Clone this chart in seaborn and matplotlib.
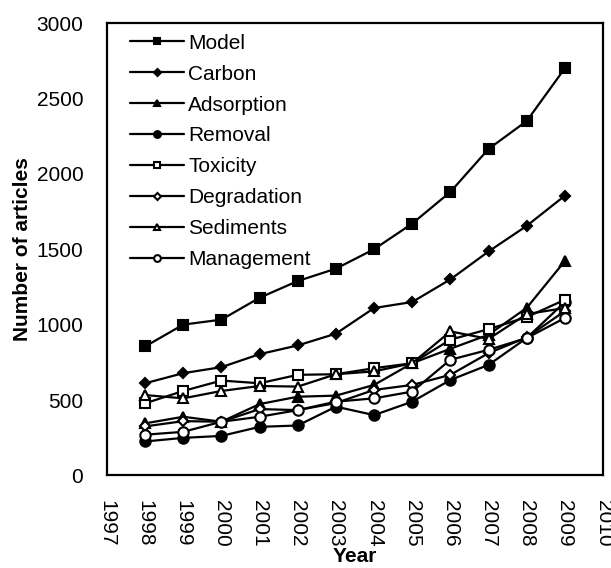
import matplotlib
matplotlib.use("Agg")
import matplotlib.pyplot as plt
import numpy as np
import pandas as pd
import seaborn as sns

years = list(range(1998, 2010))
model = [855, 1000, 1033, 1178, 1289, 1371, 1500, 1670, 1880, 2165, 2350, 2700]
carbon = [611, 678, 718, 804, 862, 940, 1110, 1150, 1300, 1485, 1655, 1855]
adsorption = [345, 389, 356, 473, 522, 529, 600, 744, 840, 933, 1111, 1422]
removal = [225, 249, 262, 322, 331, 456, 400, 489, 633, 733, 911, 1150]
toxicity = [478, 560, 629, 611, 667, 671, 711, 744, 900, 970, 1050, 1165]
degradation = [325, 360, 356, 440, 433, 480, 567, 600, 667, 811, 915, 1090]
sediments = [533, 511, 560, 593, 589, 671, 690, 744, 955, 905, 1070, 1110]
management = [270, 289, 356, 389, 433, 489, 511, 556, 767, 833, 911, 1044]

series = {
    "Model": model,
    "Carbon": carbon,
    "Adsorption": adsorption,
    "Removal": removal,
    "Toxicity": toxicity,
    "Degradation": degradation,
    "Sediments": sediments,
    "Management": management,
}
# marker, filled?, size
styles = {
    "Model": ("s", True, 7.5),
    "Carbon": ("D", True, 5.5),
    "Adsorption": ("^", True, 7.5),
    "Removal": ("o", True, 7.5),
    "Toxicity": ("s", False, 7.5),
    "Degradation": ("D", False, 5.5),
    "Sediments": ("^", False, 7.5),
    "Management": ("o", False, 7.5),
}

sns.set_style("white")
plt.rcParams["font.family"] = ["Liberation Sans", "DejaVu Sans"]
plt.rcParams["text.color"] = "black"
plt.rcParams["axes.labelcolor"] = "black"
plt.rcParams["xtick.color"] = "black"
plt.rcParams["ytick.color"] = "black"

fig = plt.figure(figsize=(6.11, 5.68), dpi=100)
ax = fig.add_axes([0.175, 0.163, 0.812, 0.7965])

for name, vals in series.items():
    m, filled, ms = styles[name]
    sns.lineplot(x=years, y=vals, ax=ax, color="black", linewidth=1.6,
                 marker=m, markersize=ms, markeredgecolor="black",
                 markeredgewidth=1.5,
                 markerfacecolor="black" if filled else "white",
                 label=name)

ax.set_xlim(1997, 2010)
ax.set_ylim(0, 3000)
ax.set_xticks(range(1997, 2011))
ax.set_yticks(range(0, 3001, 500))
ax.tick_params(axis="x", direction="in", length=5, width=1.2, labelsize=15,
               labelrotation=-90, pad=18, colors="black")
ax.tick_params(axis="y", direction="in", length=5, width=1.2, labelsize=15,
               pad=17, colors="black")
for s in ax.spines.values():
    s.set_color("black")
    s.set_linewidth(1.6)

ax.set_xlabel("Year", fontsize=15, fontweight="bold", labelpad=0, color="black")
ax.set_ylabel("Number of articles", fontsize=15, fontweight="bold", labelpad=3,
              color="black")

ax.legend(loc="upper left", bbox_to_anchor=(0.034, 0.99), frameon=False,
          fontsize=15, handlelength=2.6, handletextpad=0.2, labelspacing=0.57,
          markerscale=0.65, borderaxespad=0, borderpad=0.3, labelcolor="black")

fig.savefig("out.png", dpi=100)
